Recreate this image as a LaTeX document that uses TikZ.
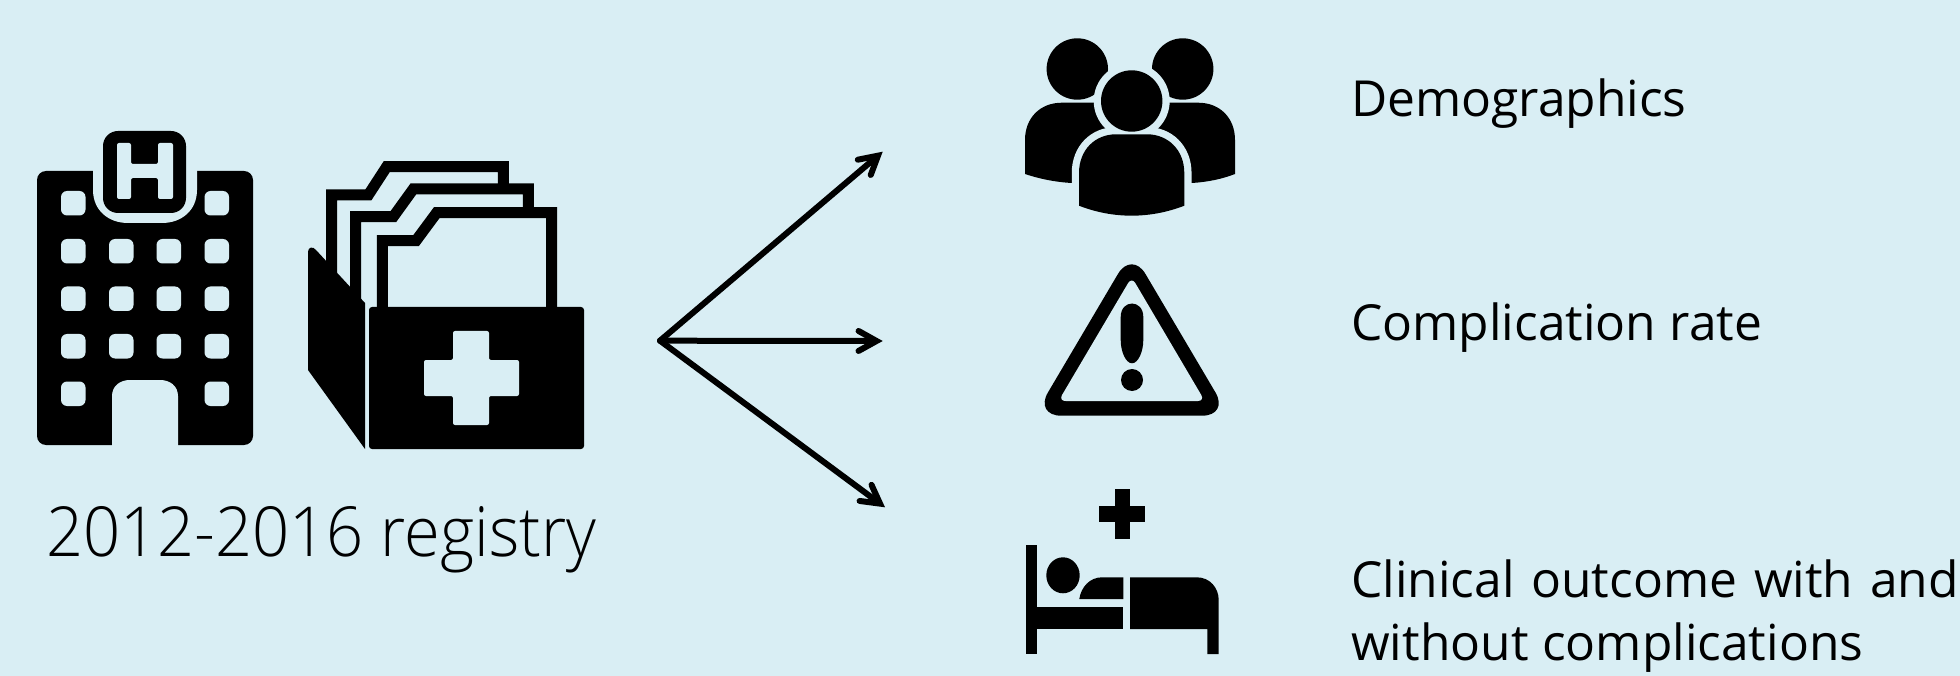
\documentclass[tikz,border=0pt]{standalone}
\usepackage{fontspec}
\setmainfont[WordSpace=1.05]{Open Sans}
\newfontfamily\widesp[WordSpace=1.3]{Open Sans}
\newfontfamily\lightfont[FakeStretch=0.942]{Open Sans Light}
\usetikzlibrary{arrows.meta}
\definecolor{bgc}{HTML}{D9EEF4}
\tikzset{
  ink/.style={fill=black,draw=none},
  hole/.style={fill=bgc,draw=none},
  conn/.style={line width=6pt,-{Straight Barb[length=18pt,width=20pt,line width=6pt,line cap=round,line join=miter]},line cap=round},
  paper/.style={line width=11pt,line join=miter},
  label/.style={anchor=base west,inner sep=0pt,font=\fontsize{49.7}{60}\selectfont,text=black},
}
\newcommand{\win}[2]{\fill[hole,rounded corners=6pt] (#1,#2) rectangle ++(24.5,24.5);}
\begin{document}
\begin{tikzpicture}[x=1pt,y=-1pt]
\useasboundingbox (0,0) rectangle (1960,676);
\fill[bgc] (0,0) rectangle (1960,676);
% hospital
\fill[ink,rounded corners=9pt] (37,171) rectangle (253,445);
\fill[hole] (93,160) -- (93,190) .. controls (93,210) and (108,223) .. (128,223) -- (162,223) .. controls (182,223) and (197,210) .. (197,190) -- (197,160) -- cycle;
\fill[ink,rounded corners=15pt] (103,131) rectangle (186,213);
\fill[hole,rounded corners=2pt] (117,143) -- (131,143) -- (131,164) -- (158,164) -- (158,143) -- (173,143) -- (173,199) -- (158,199) -- (158,178) -- (131,178) -- (131,199) -- (117,199) -- cycle;
\win{61}{191}\win{204.5}{191}
\foreach \r in {239,286.5,334}{\win{61}{\r}\win{109}{\r}\win{156.5}{\r}\win{204.5}{\r}}
\win{61}{381.5}\win{204.5}{381.5}
\fill[hole] (112,446) -- (112,396) .. controls (112,386) and (120,380) .. (130,380) -- (160,380) .. controls (170,380) and (178,386) .. (178,396) -- (178,446) -- cycle;
% folder papers
\draw[paper] (331.7,300) -- (331.7,195) -- (368.3,195) -- (386.7,166.7) -- (503.3,166.7) -- (503.3,185);
\draw[paper] (355.7,320) -- (355.7,216.7) -- (393.3,216.7) -- (413.3,189) -- (528.3,189) -- (528.3,208);
\draw[paper] (382.3,310) -- (382.3,240.7) -- (416,240.7) -- (436.7,212.7) -- (551.7,212.7) -- (551.7,310);
% folder flap
\fill[ink] (308,370) -- (308,252) .. controls (308,247) and (313,246) .. (316,250) -- (365,303) -- (365,449) -- cycle;
% folder front
\fill[ink,rounded corners=3pt] (369,307) rectangle (584,449);
\fill[hole,rounded corners=2pt] (453,331) -- (489,331) -- (489,360) -- (519,360) -- (519,396) -- (489,396) -- (489,425) -- (453,425) -- (453,396) -- (424,396) -- (424,360) -- (453,360) -- cycle;
% people
\fill[ink] (1077.3,69) circle (30.7pt);
\fill[ink] (1182.7,69) circle (30.7pt);
\fill[ink] (1025,174) -- (1025,140) .. controls (1025,118) and (1040,102.7) .. (1062,102.7) -- (1110,102.7) -- (1110,183) -- (1071.7,183) .. controls (1055,182) and (1040,179) .. (1025,174) -- cycle;
\fill[ink] (1235,174) -- (1235,140) .. controls (1235,118) and (1220,102.7) .. (1198,102.7) -- (1150,102.7) -- (1150,183) -- (1191.7,183) .. controls (1208,182) and (1222,179) .. (1235,174) -- cycle;
\fill[hole] (1131.7,101) circle (38pt);
\path[fill=bgc,draw=bgc,line width=14.5pt] (1079,205.7) -- (1079,173) .. controls (1079,150) and (1095,134.3) .. (1116,134.3) -- (1147,134.3) .. controls (1168,134.3) and (1184.3,150) .. (1184.3,173) -- (1184.3,205.7) .. controls (1150,219) and (1113,219) .. (1079,205.7) -- cycle;
\fill[ink] (1079,205.7) -- (1079,173) .. controls (1079,150) and (1095,134.3) .. (1116,134.3) -- (1147,134.3) .. controls (1168,134.3) and (1184.3,150) .. (1184.3,173) -- (1184.3,205.7) .. controls (1150,219) and (1113,219) .. (1079,205.7) -- cycle;
\fill[ink] (1131.7,101) circle (30.7pt);
% warning
\fill[ink,rounded corners=27pt] (1034.2,415.7) -- (1131.7,250.7) -- (1229.2,415.7) -- cycle;
\fill[hole,rounded corners=7pt] (1058.5,401) -- (1131.7,277) -- (1204.8,401) -- cycle;
\fill[ink] (1120.7,317) .. controls (1120.7,299) and (1143.3,299) .. (1143.3,317) -- (1143.3,340) .. controls (1143.3,352) and (1138,363.3) .. (1132,363.3) .. controls (1126,363.3) and (1120.7,352) .. (1120.7,340) -- cycle;
\fill[ink] (1132,380) circle (11pt);
% bed
\fill[ink] (1115,489) rectangle (1130,539.3);
\fill[ink] (1099.3,505.7) rectangle (1145.3,522.3);
\fill[ink] (1026.3,545) rectangle (1037.3,654);
\fill[ink] (1037,606.7) rectangle (1123.3,629);
\fill[ink] (1063,575.3) ellipse (16.7pt and 18pt);
\fill[ink] (1079.3,599) .. controls (1081,587) and (1090,577.3) .. (1102,577.3) -- (1123.3,577.3) -- (1123.3,599) -- cycle;
\fill[ink] (1130,577.3) -- (1196.7,577.3) .. controls (1210,577.3) and (1218.7,588) .. (1218.7,600) -- (1218.7,654) -- (1207.3,654) -- (1207.3,629) -- (1130,629) -- cycle;
% connectors
\coordinate (hub) at (660,340.7);
\coordinate (up) at (882.7,151.7);
\coordinate (mid) at (882.7,341);
\coordinate (low) at (885,507.3);
\draw[conn] (hub) -- (up);
\draw[conn] (hub) -- (mid);
\draw[conn] (hub) -- (low);
% text
\node[anchor=base west,inner sep=0pt,font=\lightfont\fontsize{69}{75}\selectfont] (reg) at (46,556) {2012-2016 registry};
\node[label] (t1) at (1351,117) {Demographics};
\node[label] (t2) at (1351,341) {Complication rate};
\node[label] (t3) at (1351,597) {\widesp Clinical outcome with and};
\node[label] (t4) at (1351,660) {without complications};
\end{tikzpicture}
\end{document}
